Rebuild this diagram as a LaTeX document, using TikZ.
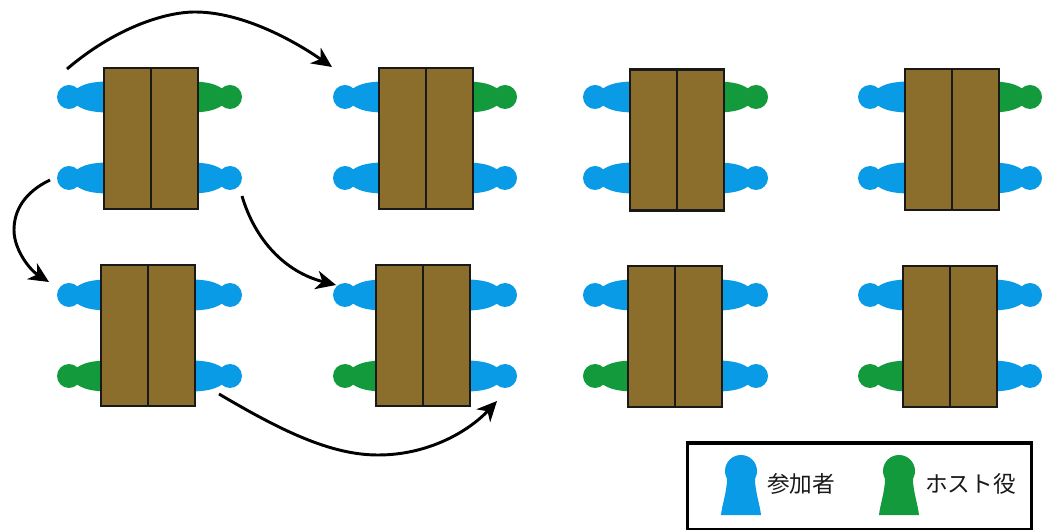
\documentclass[tikz,border=0pt]{standalone}
\usepackage{fontspec}
\newfontfamily\cjk{Noto Sans CJK JP}
\usetikzlibrary{arrows.meta,positioning}
\definecolor{guestblue}{HTML}{0A9BE6}
\definecolor{hostgreen}{HTML}{129A3C}
\definecolor{tablebrown}{HTML}{8C6E2C}
\tikzset{
        % Table seen from above
        table_node/.style={rectangle, draw=black!90, line width=2.1pt, fill=tablebrown, inner sep=0pt, minimum width=70.5pt, minimum height=105.75pt},
        % Sideways person
        pawn/.pic={
            \fill[pic actions] (0,0) circle (12);
            \fill[pic actions] (8,-8.5) .. controls (14,-12.5) and (22,-15.5) .. (40,-15.5) -- (40,15.5) .. controls (22,15.5) and (14,12.5) .. (8,8.5) -- cycle;
        },
        % Upright person in the legend
        legend_pawn/.pic={
            \fill[pic actions] (0,0) circle (16);
            \fill[pic actions] (-14,8) .. controls (-14,20) and (-19,34) .. (-20,44) -- (20,44) .. controls (19,34) and (14,20) .. (14,8) -- cycle;
        },
        % Text in the legend
        legend_text/.style={font=\cjk\fontsize{17}{20}\selectfont, text=black!90, inner sep=0pt},
        move/.style={-{Stealth[length=15pt,width=14pt,inset=4.5pt]}, line width=2.2pt}
}
\begin{document}
\begin{tikzpicture}[x=0.75pt, y=-0.75pt]
    \useasboundingbox (0,0) rectangle (1042,530);
    % People, drawn first so that the tables cover them
    \foreach \lx/\rx [count=\c] in {69/230,345/505,595/756,870/1030} {
        \pic[guestblue] (pl1\c) at (\lx,97) {pawn};
        \pic[guestblue] (pl2\c) at (\lx,178) {pawn};
        \pic[guestblue] (pl3\c) at (\lx,295) {pawn};
        \pic[hostgreen] (pl4\c) at (\lx,376) {pawn};
        \pic[hostgreen,xscale=-1] (pr1\c) at (\rx,97) {pawn};
        \pic[guestblue,xscale=-1] (pr2\c) at (\rx,178) {pawn};
        \pic[guestblue,xscale=-1] (pr3\c) at (\rx,295) {pawn};
        \pic[guestblue,xscale=-1] (pr4\c) at (\rx,376) {pawn};
    }
    % Tables
    \foreach \name/\x/\y in {t1/151/138.5,t2/426/138.5,t3/677/140,t4/952/139.5,t5/148/335.5,t6/423/335.5,t7/675/336.5,t8/950/336.5} {
        \node[table_node] (\name) at (\x,\y) {};
        \draw[line width=2.1pt, black!90] (\name.north) -- (\name.south);
    }
    % Moves
    \coordinate (a1s) at (67,69);
    \coordinate (a1e) at (332,67);
    \coordinate (a2s) at (50,180);
    \coordinate (a2e) at (49,282);
    \coordinate (a3s) at (242,196);
    \coordinate (a3e) at (336,285);
    \coordinate (a4s) at (219,394);
    \coordinate (a4e) at (497,401);
    \draw[move] (a1s) .. controls (115,28) and (165,12) .. (195,12) .. controls (240,12) and (290,38) .. (a1e);
    \draw[move] (a2s) .. controls (25,192) and (14,210) .. (14,230) .. controls (14,250) and (30,270) .. (a2e);
    \draw[move] (a3s) .. controls (255,240) and (285,272) .. (a3e);
    \draw[move] (a4s) .. controls (280,430) and (330,455) .. (378,455) .. controls (430,455) and (470,430) .. (a4e);
    % Legend
    \node[rectangle, draw=black, line width=2.6pt, minimum width=258pt, minimum height=65.25pt, inner sep=0pt] (legend) at (859.5,486.5) {};
    \pic[guestblue] (legend_guest) at (741,471) {legend_pawn};
    \pic[hostgreen] (legend_host) at (899,471) {legend_pawn};
    \node[legend_text, anchor=west] (guest_label) at (767,484) {参加者};
    \node[legend_text, anchor=west] (host_label) at (925,484) {ホスト役};
\end{tikzpicture}
\end{document}
